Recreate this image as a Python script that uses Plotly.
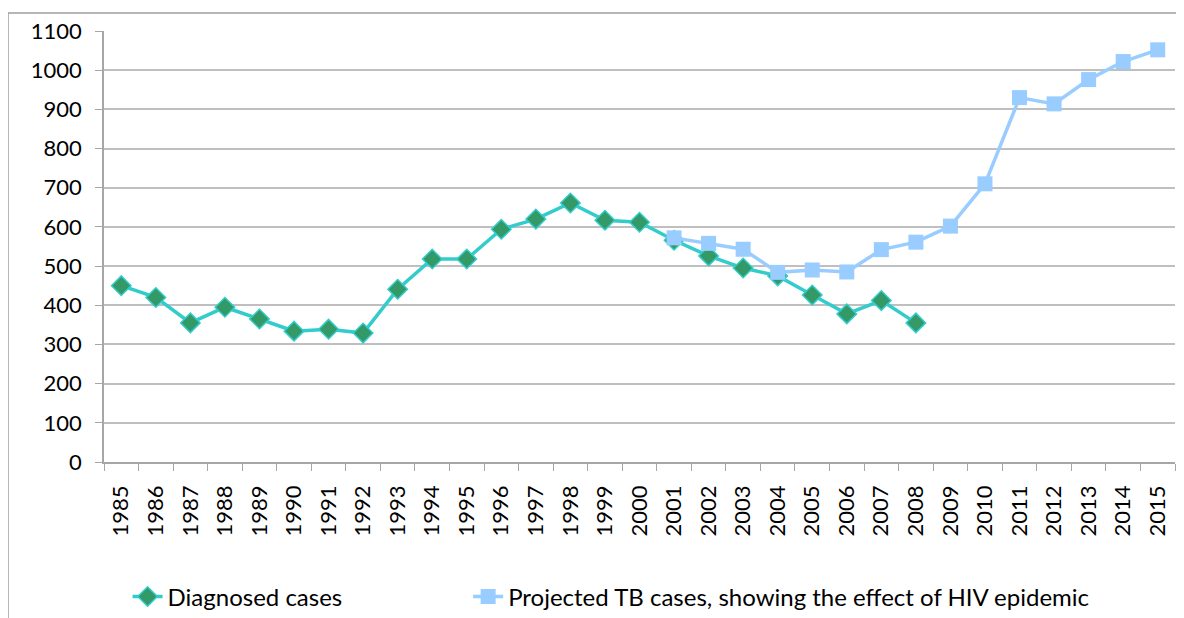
import plotly.graph_objects as go

years = [str(y) for y in range(1985, 2016)]
diagnosed_years = [str(y) for y in range(1985, 2009)]
diagnosed = [450, 420, 355, 395, 365, 334, 339, 329, 441, 518, 518, 594, 620, 661,
             617, 612, 566, 526, 495, 475, 426, 378, 412, 355]
projected_years = [str(y) for y in range(2001, 2016)]
projected = [572, 558, 543, 484, 490, 485, 542, 561, 602, 710, 930, 914, 976, 1022, 1052]
y_ticks = list(range(0, 1101, 100))

FONT = "Lato, 'Open Sans', sans-serif"
FS = 22
LFS = 24

# The page body has an 8px margin, so the figure is sized to fill the window from (8, 8).
W, H = 1176, 610
ML, MR, MT, MB = 96, 9, 23, 156
PW = W - ML - MR
PH = H - MT - MB

fig = go.Figure()
fig.add_trace(go.Scatter(
    x=diagnosed_years, y=diagnosed, mode="lines+markers",
    name="Diagnosed cases", legend="legend",
    line=dict(color="#33CCCC", width=3.5),
    marker=dict(symbol="diamond", size=15, color="#339966",
                line=dict(color="#33CCCC", width=1.5)),
))
fig.add_trace(go.Scatter(
    x=projected_years, y=projected, mode="lines+markers",
    name="Projected TB cases, showing the effect of HIV epidemic", legend="legend2",
    line=dict(color="#99CCFF", width=3.5),
    marker=dict(symbol="square", size=15, color="#99CCFF"),
))

fig.update_layout(
    width=W, height=H,
    margin=dict(l=ML, r=MR, t=MT, b=MB, autoexpand=False),
    paper_bgcolor="white", plot_bgcolor="white",
    font=dict(family=FONT, size=FS, color="#000000"),
    showlegend=True,
    legend=dict(orientation="h", x=0.022, y=-0.313, xanchor="left", yanchor="middle",
                font=dict(size=LFS), bgcolor="rgba(0,0,0,0)"),
    legend2=dict(orientation="h", x=0.340, y=-0.313, xanchor="left", yanchor="middle",
                 font=dict(size=LFS), bgcolor="rgba(0,0,0,0)"),
    shapes=[dict(type="rect", xref="paper", yref="paper",
                 x0=-ML / PW, x1=1.05, y0=-0.45, y1=(PH + MT - 5) / PH,
                 line=dict(color="#9F9F9F", width=1.5), layer="below")],
)
fig.update_xaxes(
    type="category", categoryorder="array", categoryarray=years,
    range=[-0.5, len(years) - 0.5],
    tickmode="array", tickvals=years, ticktext=years,
    tickangle=-90, tickson="boundaries", ticks="outside", ticklen=7,
    tickcolor="#A6A6A6", showline=True, linecolor="#A6A6A6", linewidth=1.5,
    showgrid=False, ticklabelstandoff=13, tickfont=dict(size=FS), automargin=False,
)
fig.update_yaxes(
    range=[0, 1100], tickmode="array", tickvals=y_ticks,
    ticks="outside", ticklen=7, tickcolor="#A6A6A6",
    showline=True, linecolor="#A6A6A6", linewidth=1.5,
    showgrid=True, gridcolor="#BFBFBF", gridwidth=1.5,
    zeroline=False, ticklabelstandoff=9, tickfont=dict(size=FS), automargin=False,
)

fig.write_html("out.html")
